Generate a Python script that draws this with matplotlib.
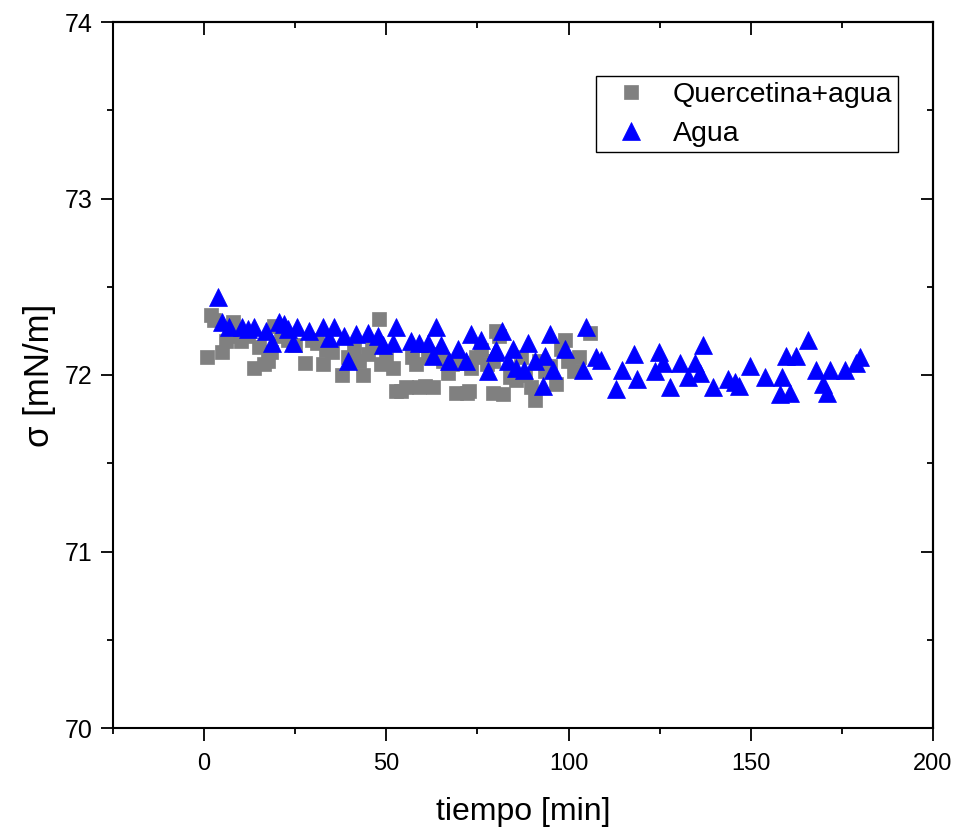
import matplotlib
matplotlib.use("Agg")
import matplotlib.pyplot as plt
from matplotlib.ticker import MultipleLocator

# Quercetina+agua (grey squares)
quer_t = [0.9, 1.8, 2.8, 4.8, 6.0, 7.8, 8.8, 10.1, 12.0, 13.7, 15.0, 16.5, 17.4,
          18.3, 19.2, 21.0, 23.0, 25.0, 27.7, 29.5, 31.0, 32.5, 33.5, 35.2, 37.8,
          39.5, 41.0, 42.5, 43.7, 45.0, 46.2, 47.9, 48.5, 50.0, 51.7, 52.7, 54.0,
          55.5, 57.0, 58.2, 59.0, 60.5, 61.5, 62.7, 64.5, 65.5, 66.8, 68.0, 69.1,
          70.5, 72.0, 72.8, 73.3, 74.5, 76.0, 77.5, 79.2, 79.2, 80.1, 81.0, 82.0,
          83.8, 85.6, 87.0, 88.0, 89.7, 90.9, 92.0, 93.5, 95.0, 96.6, 98.0, 99.0,
          99.8, 101.6, 103.0, 105.8]
quer_s = [72.10, 72.34, 72.31, 72.13, 72.19, 72.30, 72.22, 72.19, 72.22, 72.04,
          72.16, 72.06, 72.08, 72.13, 72.28, 72.22, 72.20, 72.17, 72.07, 72.20,
          72.18, 72.06, 72.14, 72.13, 72.00, 72.10, 72.14, 72.08, 72.00, 72.12,
          72.17, 72.32, 72.06, 72.10, 72.04, 71.91, 71.91, 71.93, 72.10, 72.06,
          71.93, 71.94, 72.10, 71.93, 72.12, 72.08, 72.01, 72.06, 71.90, 72.07,
          71.90, 71.91, 72.04, 72.10, 72.14, 72.06, 71.90, 72.08, 72.25, 72.22,
          71.89, 71.99, 71.97, 72.10, 72.00, 71.93, 71.86, 72.08, 72.02, 72.05,
          71.95, 72.15, 72.20, 72.08, 72.02, 72.10, 72.24]

# Agua (blue triangles)
agua_t = [3.8, 4.8, 6.7, 10.5, 12.0, 13.7, 16.9, 18.6, 20.6, 22.0, 23.0, 24.3,
          25.6, 28.8, 32.5, 34.3, 35.7, 38.5, 39.4, 41.7, 44.9, 47.6, 49.0, 51.7,
          52.7, 56.8, 59.0, 61.4, 62.7, 63.7, 65.0, 67.3, 69.6, 71.9, 73.3, 76.0,
          77.8, 79.7, 80.1, 81.8, 83.3, 84.7, 85.6, 87.9, 88.8, 90.7, 92.9, 93.4,
          94.8, 95.7, 98.9, 103.9, 104.9, 107.6, 109.0, 112.9, 114.7, 117.9, 118.8,
          123.6, 124.8, 126.0, 127.7, 130.7, 132.8, 134.6, 136.0, 136.9, 139.7,
          143.8, 145.6, 146.8, 149.9, 153.8, 158.0, 158.7, 159.8, 160.7, 162.5,
          165.7, 167.9, 169.9, 170.8, 171.7, 175.8, 179.0, 180.0]
agua_s = [72.44, 72.30, 72.27, 72.27, 72.26, 72.27, 72.25, 72.18, 72.30, 72.29,
          72.26, 72.18, 72.27, 72.25, 72.27, 72.21, 72.27, 72.22, 72.08, 72.23,
          72.24, 72.22, 72.17, 72.18, 72.27, 72.19, 72.18, 72.18, 72.11, 72.27,
          72.17, 72.08, 72.15, 72.08, 72.23, 72.20, 72.02, 72.13, 72.14, 72.25,
          72.08, 72.15, 72.04, 72.03, 72.18, 72.08, 71.94, 72.11, 72.23, 72.03,
          72.15, 72.03, 72.27, 72.10, 72.085, 71.92, 72.03, 72.12, 71.98, 72.02,
          72.13, 72.07, 71.93, 72.07, 71.99, 72.07, 72.01, 72.17, 71.93, 71.98,
          71.96, 71.94, 72.05, 71.99, 71.89, 71.99, 72.11, 71.90, 72.11, 72.20,
          72.03, 71.95, 71.90, 72.03, 72.03, 72.07, 72.10]

plt.rcParams['font.family'] = ['Liberation Sans', 'DejaVu Sans']

fig = plt.figure(figsize=(9.59, 8.39), dpi=100)
ax = fig.add_axes([113/959, 1 - 728/839, 820/959, 706/839])

ax.plot(quer_t, quer_s, 's', color='#808080', ms=10, mec='#808080', mew=0.5,
        label='Quercetina+agua')
ax.plot(agua_t, agua_s, '^', color='#0000FF', ms=12.5, mec='#0000FF', mew=0.5,
        label='Agua')

ax.set_xlim(-25, 200)
ax.set_ylim(70, 74)
ax.xaxis.set_major_locator(MultipleLocator(50))
ax.xaxis.set_minor_locator(MultipleLocator(25))
ax.yaxis.set_major_locator(MultipleLocator(1))
ax.yaxis.set_minor_locator(MultipleLocator(0.5))

for sp in ax.spines.values():
    sp.set_linewidth(1.5)

ax.tick_params(which='both', direction='out', width=1.3, top=False, right=False)
ax.tick_params(which='major', length=9)
ax.tick_params(which='minor', length=4.5)
ax.tick_params(axis='y', labelsize=18, pad=6)
ax.tick_params(axis='x', labelsize=17, pad=9)

# mirrored inward ticks on top and right
sec_x = ax.secondary_xaxis('top')
sec_x.xaxis.set_major_locator(MultipleLocator(50))
sec_x.xaxis.set_minor_locator(MultipleLocator(25))
sec_x.tick_params(which='both', direction='in', width=1.3, labeltop=False)
sec_x.tick_params(which='major', length=9)
sec_x.tick_params(which='minor', length=4.5)
sec_x.spines['top'].set_linewidth(1.5)
sec_y = ax.secondary_yaxis('right')
sec_y.yaxis.set_major_locator(MultipleLocator(1))
sec_y.yaxis.set_minor_locator(MultipleLocator(0.5))
sec_y.tick_params(which='both', direction='in', width=1.3, labelright=False)
sec_y.tick_params(which='major', length=9)
sec_y.tick_params(which='minor', length=4.5)
sec_y.spines['right'].set_linewidth(1.5)

ax.set_xlabel('tiempo [min]', fontsize=23, labelpad=16)
ax.set_ylabel('σ [mN/m]', fontsize=25, labelpad=6)

leg = ax.legend(loc='upper right', bbox_to_anchor=(0.957, 0.9235), fontsize=20.5,
                frameon=True, fancybox=False, edgecolor='black', framealpha=1,
                handlelength=2.1, handletextpad=0.4, borderpad=0.2,
                labelspacing=0.45, borderaxespad=0)
leg.get_frame().set_linewidth(1.0)

fig.savefig('out.png', dpi=100)
